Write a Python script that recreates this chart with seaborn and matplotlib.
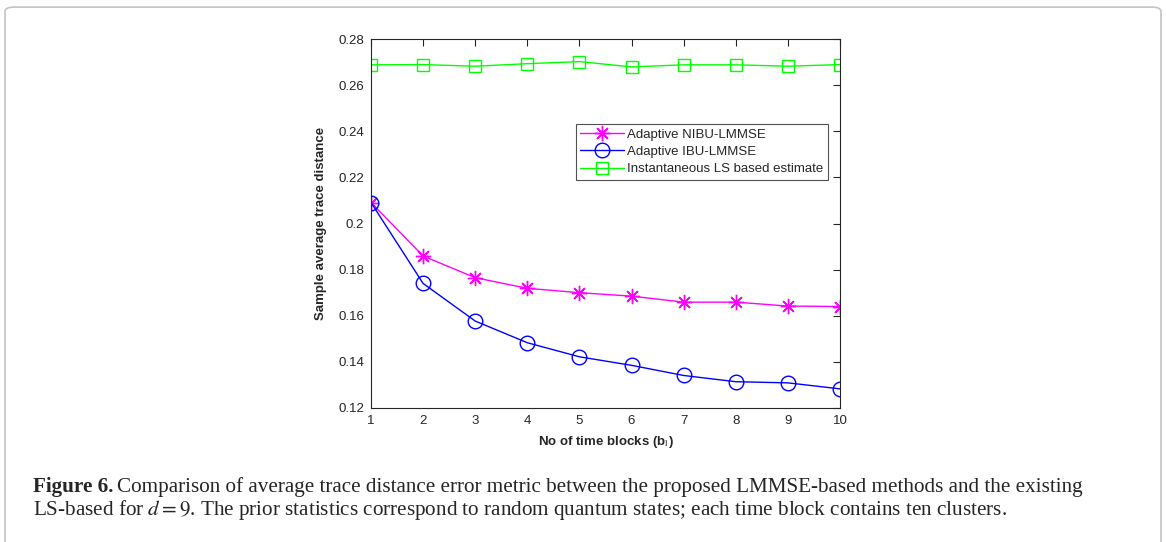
import numpy as np
import pandas as pd
import matplotlib
matplotlib.use("Agg")
import matplotlib.pyplot as plt
import seaborn as sns
from matplotlib.patches import FancyBboxPatch

# ---- data ----
blocks = [1, 2, 3, 4, 5, 6, 7, 8, 9, 10]
nibu = [0.2091, 0.1859, 0.1765, 0.1719, 0.1700, 0.1685, 0.1659, 0.1659, 0.1642, 0.1640]
ibu = [0.2091, 0.1740, 0.1577, 0.1483, 0.1422, 0.1385, 0.1341, 0.1314, 0.1309, 0.1283]
ls_est = [0.2688, 0.2689, 0.2682, 0.2693, 0.2702, 0.2679, 0.2688, 0.2688, 0.2682, 0.2689]
series_names = ["Adaptive NIBU-LMMSE", "Adaptive IBU-LMMSE", "Instantaneous LS based estimate"]
yticks = [0.12, 0.14, 0.16, 0.18, 0.2, 0.22, 0.24, 0.26, 0.28]
ytick_labels = ["0.12", "0.14", "0.16", "0.18", "0.2", "0.22", "0.24", "0.26", "0.28"]

sns.set_style("white")
plt.rcParams['font.family'] = ['Liberation Sans', 'DejaVu Sans']
plt.rcParams['mathtext.fontset'] = 'stix'

W, H = 1166, 542
fig = plt.figure(figsize=(W / 100, H / 100), dpi=100)

# outer rounded border (open at the bottom, like the reference crop)
border = FancyBboxPatch((5 / W, -0.05), 1156 / W, (535 + 27) / H,
                        boxstyle="round,pad=0,rounding_size=0.008",
                        transform=fig.transFigure, fill=False,
                        edgecolor="#c4c4c4", linewidth=1.2)
fig.patches.append(border)

ax_l, ax_r, ax_t, ax_b = 371, 840, 39, 408
ax = fig.add_axes([ax_l / W, 1 - ax_b / H, (ax_r - ax_l) / W, (ax_b - ax_t) / H])

df = pd.DataFrame({
    "block": blocks * 3,
    "value": nibu + ibu + ls_est,
    "series": [series_names[0]] * 10 + [series_names[1]] * 10 + [series_names[2]] * 10,
})

styles = {
    series_names[0]: dict(color="#FF00FF", marker=(8, 2, 0), ms=11),
    series_names[1]: dict(color="#0000FF", marker="o", ms=10.5),
    series_names[2]: dict(color="#00FF00", marker="s", ms=8),
}
for name in series_names:
    st = styles[name]
    sns.lineplot(data=df[df.series == name], x="block", y="value", ax=ax,
                 color=st["color"], marker=st["marker"], markersize=st["ms"],
                 markerfacecolor="none", markeredgecolor=st["color"],
                 markeredgewidth=1.0, linewidth=1.0, label=name)

ax.set_xlim(1, 10)
ax.set_ylim(0.12, 0.28)
ax.set_xticks(blocks)
ax.set_xticklabels([str(b) for b in blocks])
ax.set_yticks(yticks)
ax.set_yticklabels(ytick_labels)
ax.tick_params(direction="in", top=True, right=True, length=5, width=0.8,
               labelsize=9.5, colors="#262626", pad=5)
for s in ax.spines.values():
    s.set_color("#262626")
    s.set_linewidth(0.8)
ax.set_xlabel(r"No of time blocks (b$_{\mathrm{l}}$)", fontsize=9.5, fontweight="bold", color="#262626", labelpad=5)
ax.set_ylabel("Sample average trace distance", fontsize=9.5, fontweight="bold", color="#262626", labelpad=8)

leg = ax.legend(loc="upper right", bbox_to_anchor=((828 - ax_l) / (ax_r - ax_l), (ax_b - 124) / (ax_b - ax_t)),
                fontsize=9.5, frameon=True, fancybox=False, edgecolor="#262626", handlelength=3.3,
                borderpad=0.35, labelspacing=0.38, handletextpad=0.25, borderaxespad=0)
leg.get_frame().set_linewidth(0.8)

# caption
cap_size = 15.2
fig.canvas.draw()
r = fig.canvas.get_renderer()
x0 = 33 / W
t1 = fig.text(x0, 1 - 487 / H, "Figure 6.", fontfamily="Liberation Serif", fontweight="bold",
              fontsize=cap_size, va="center", ha="left")
bb = t1.get_window_extent(renderer=r)
fig.text((bb.x1 + 4) / W, 1 - 487 / H,
         "Comparison of average trace distance error metric between the proposed LMMSE-based methods and the existing",
         fontfamily="Liberation Serif", fontsize=cap_size, va="center", ha="left")
fig.text(x0, 1 - 510 / H,
         r"LS-based for $d = 9$. The prior statistics correspond to random quantum states; each time block contains ten clusters.",
         fontfamily="Liberation Serif", fontsize=cap_size, va="center", ha="left")

fig.savefig("out.png", dpi=100)
